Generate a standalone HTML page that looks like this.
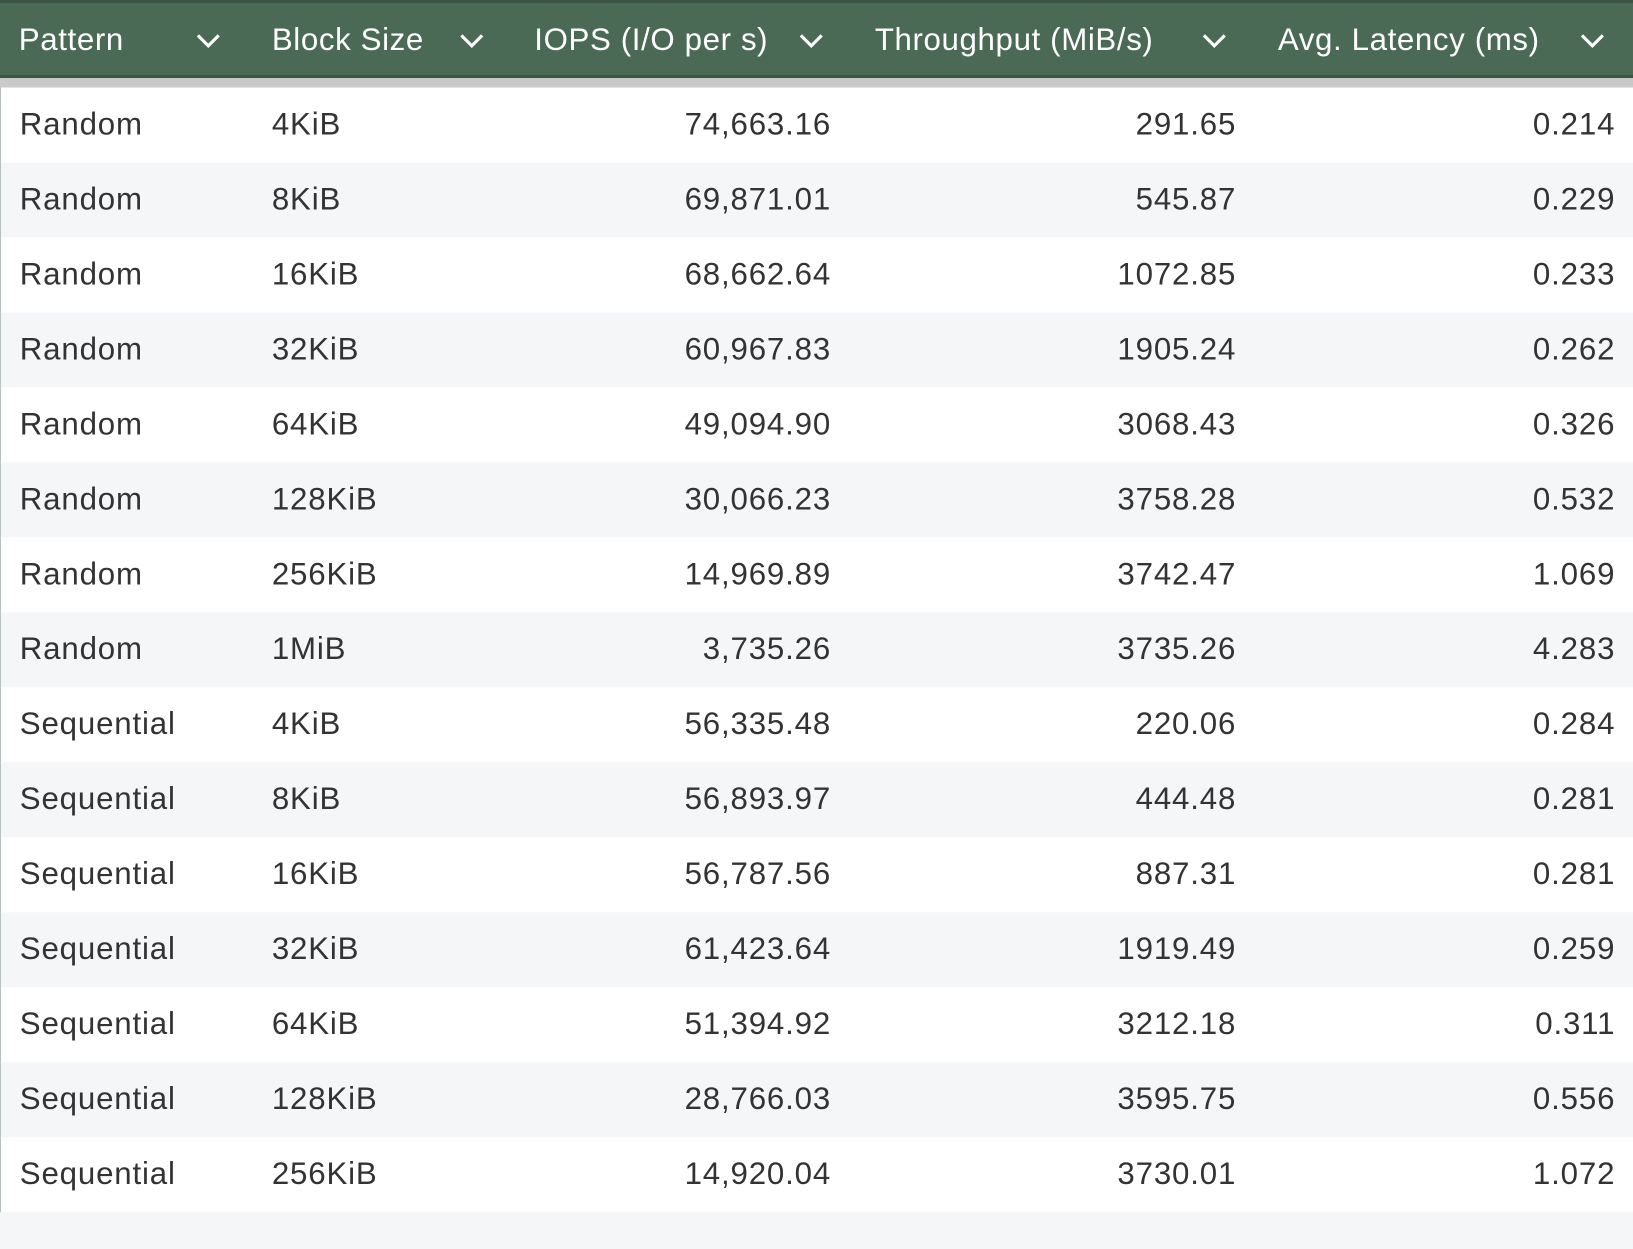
<!DOCTYPE html>
<html><head><meta charset="utf-8"><style>
html,body{margin:0;padding:0;width:1633px;height:1249px;overflow:hidden;background:#f5f6f8;}
#wrap{position:absolute;left:0;top:0;width:1568px;height:1199px;transform:scale(1.04145);transform-origin:0 0;font-family:"Liberation Sans",sans-serif;}
#hdr{position:absolute;left:0;top:0;width:1568px;height:75px;background:#4b6a56;border-top:3px solid #3b5445;border-bottom:3px solid #3b5445;box-sizing:border-box;}
.h{position:absolute;top:19px;color:#fff;font-size:30px;letter-spacing:0.6px;white-space:nowrap;}
.chev{position:absolute;top:29px;width:24px;height:15px;}
#band{position:absolute;left:0;top:75px;width:1568px;height:10px;background:#c9c9c9;}
.row{position:absolute;left:0;width:1568px;height:72px;border-left:1px solid #b8c0c0;box-sizing:border-box;}
.c{position:absolute;top:19px;font-size:30px;letter-spacing:0.8px;color:#333;white-space:nowrap;}
</style></head><body>
<div id="wrap">
<div id="hdr">
<div class="h" style="left:18px">Pattern</div>
<svg class="chev" style="left:188px" viewBox="0 0 24 15"><path d="M2 2 L12 12 L22 2" fill="none" stroke="#fff" stroke-width="3"/></svg>
<div class="h" style="left:261px">Block Size</div>
<svg class="chev" style="left:441px" viewBox="0 0 24 15"><path d="M2 2 L12 12 L22 2" fill="none" stroke="#fff" stroke-width="3"/></svg>
<div class="h" style="left:513px">IOPS (I/O per s)</div>
<svg class="chev" style="left:767px" viewBox="0 0 24 15"><path d="M2 2 L12 12 L22 2" fill="none" stroke="#fff" stroke-width="3"/></svg>
<div class="h" style="left:840px">Throughput (MiB/s)</div>
<svg class="chev" style="left:1154px" viewBox="0 0 24 15"><path d="M2 2 L12 12 L22 2" fill="none" stroke="#fff" stroke-width="3"/></svg>
<div class="h" style="left:1227px">Avg. Latency (ms)</div>
<svg class="chev" style="left:1517px" viewBox="0 0 24 15"><path d="M2 2 L12 12 L22 2" fill="none" stroke="#fff" stroke-width="3"/></svg>
</div>
<div id="band"></div>
<div id="body"></div>
</div>
<script>
const patterns=["Random","Random","Random","Random","Random","Random","Random","Random","Sequential","Sequential","Sequential","Sequential","Sequential","Sequential","Sequential"];
const blocks=["4KiB","8KiB","16KiB","32KiB","64KiB","128KiB","256KiB","1MiB","4KiB","8KiB","16KiB","32KiB","64KiB","128KiB","256KiB"];
const iops=["74,663.16","69,871.01","68,662.64","60,967.83","49,094.90","30,066.23","14,969.89","3,735.26","56,335.48","56,893.97","56,787.56","61,423.64","51,394.92","28,766.03","14,920.04"];
const thr=["291.65","545.87","1072.85","1905.24","3068.43","3758.28","3742.47","3735.26","220.06","444.48","887.31","1919.49","3212.18","3595.75","3730.01"];
const lat=["0.214","0.229","0.233","0.262","0.326","0.532","1.069","4.283","0.284","0.281","0.281","0.259","0.311","0.556","1.072"];
const body=document.getElementById('body');
for(let i=0;i<patterns.length;i++){
  const row=document.createElement('div');
  row.className='row';
  row.style.top=(84+72*i)+'px';
  row.style.background=i%2?'#f5f6f8':'#ffffff';
  
  
  const cells=[[patterns[i],'left:18px','pattern-cell'],[blocks[i],'left:260px','block-size-cell'],[iops[i],'right:770px','iops-cell'],[thr[i],'right:381px','throughput-cell'],[lat[i],'right:17px','latency-cell']];
  for(const [t,pos,name] of cells){
    const c=document.createElement('div');
    c.className='c';
    c.style.cssText=pos;
    c.textContent=t;
    
    
    row.appendChild(c);
  }
  body.appendChild(row);
}
</script>
</body></html>
